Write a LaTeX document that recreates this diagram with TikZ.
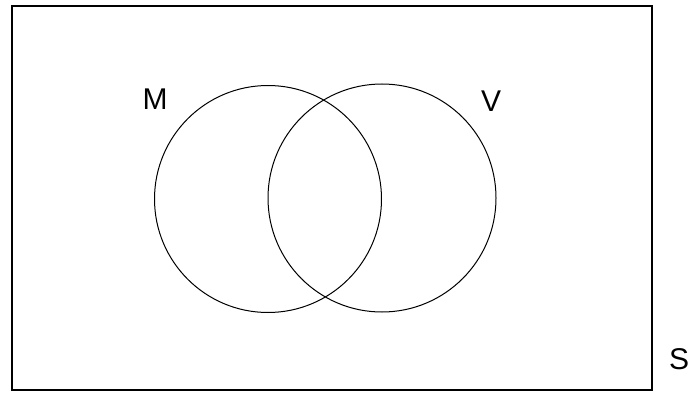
\documentclass[tikz,border=0pt]{standalone}
\usepackage{fontspec}
\setmainfont{Liberation Sans}
\tikzset{
  setline/.style={draw=black, line width=1pt},
  framebox/.style={draw=black, line width=1.6pt},
  lbl/.style={font=\fontsize{30}{30}\selectfont, inner sep=0pt}
}
\begin{document}
\begin{tikzpicture}[x=1pt,y=-1pt]
\useasboundingbox (0,0) rectangle (690,393);
\draw[framebox] (12,6) rectangle (652,390);
\draw[setline] (268,199) circle[radius=113.5];
\draw[setline] (382,198) circle[radius=114];
\node[lbl] (m) at (155,99) {M};
\node[lbl] (v) at (491,101) {V};
\node[lbl] (s) at (679,359) {S};
\end{tikzpicture}
\end{document}
